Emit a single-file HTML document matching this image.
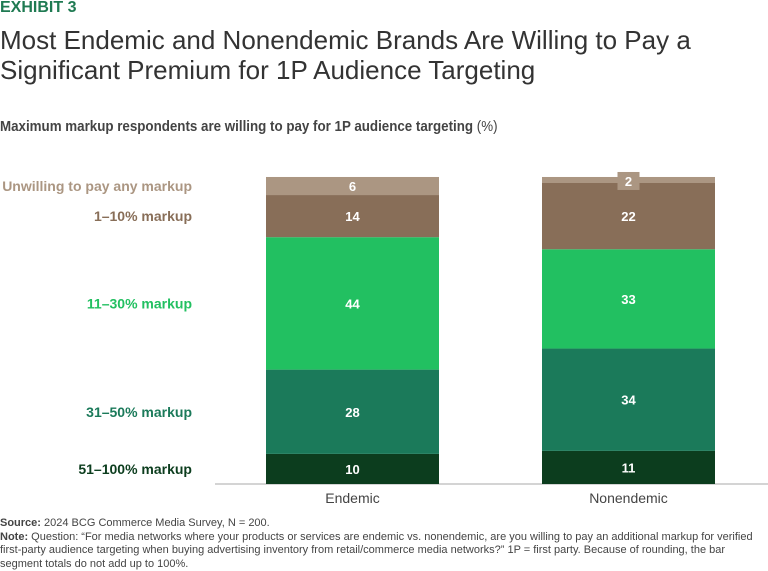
<!DOCTYPE html>
<html><head><meta charset="utf-8"><style>
body{margin:0;width:768px;height:571px;background:#fff;overflow:hidden;font-family:"Liberation Sans Narrow","Liberation Sans",sans-serif;position:relative}
.t{position:absolute;white-space:nowrap}
</style></head><body>
<div class="t" style="left:0;top:-1px;font-size:16px;font-weight:bold;color:#1f7a52">EXHIBIT 3</div>
<div class="t" style="left:0;top:25px;font-size:26px;line-height:30px;color:#333">Most Endemic and Nonendemic Brands Are Willing to Pay a<br>Significant Premium for 1P Audience Targeting</div>
<div class="t" style="left:0;top:118px;font-size:15px;font-weight:bold;color:#444;transform:scaleX(0.89);transform-origin:0 0">Maximum markup respondents are willing to pay for 1P audience targeting <span style="font-weight:normal">(%)</span></div>
<svg id="chart" width="768" height="571" style="position:absolute;left:0;top:0"></svg>
<div class="t" style="left:0;top:517px;font-size:11px;line-height:13.5px;color:#444"><b>Source:</b> 2024 BCG Commerce Media Survey, N = 200.<br><b>Note:</b> Question: “For media networks where your products or services are endemic vs. nonendemic, are you willing to pay an additional markup for verified<br>first-party audience targeting when buying advertising inventory from retail/commerce media networks?” 1P = first party. Because of rounding, the bar<br>segment totals do not add up to 100%.</div>
<script>
const categories=["Endemic","Nonendemic"];
const seriesNames=["51–100% markup","31–50% markup","11–30% markup","1–10% markup","Unwilling to pay any markup"];
const endemicValues=[10,28,44,14,6];
const nonendemicValues=[11,34,33,22,2];
const colors=["#0c3d1e","#1b7a5a","#22c061","#886e58","#ab9682"];
const values=[endemicValues,nonendemicValues];
const NS="http://www.w3.org/2000/svg";
const svg=document.getElementById('chart');
const base=484,k=3.01,barW=173,xs=[266,542];
const y=v=>base-v*k;
function mk(tag,a){const e=document.createElementNS(NS,tag);for(const n in a)e.setAttribute(n,a[n]);svg.appendChild(e);return e;}
const axis=mk('line',{x1:215,x2:768,y1:base,y2:base,stroke:'#aaa','stroke-width':1});


values.forEach((vals,ci)=>{
  let cum=0;
  vals.forEach((v,si)=>{
    const y0=y(cum),y1=y(cum+v);
    const r=mk('rect',{x:xs[ci],y:y1,width:barW,height:y0-y1,fill:colors[si]});
    
    
    const cx=xs[ci]+barW/2;
    let ty=(y0+y1)/2+5;
    if(y0-y1<14){
      const b=mk('rect',{x:cx-11,y:y1-5,width:22,height:18,fill:colors[si]});
      
      
      ty=y1+9;
    }
    const t=mk('text',{x:cx,y:ty,'text-anchor':'middle',fill:'#fff','font-size':13,'font-weight':'bold','font-family':'"Liberation Sans Narrow","Liberation Sans",sans-serif'});
    t.textContent=v;
    
    
    cum+=v;
  });
  const l=mk('text',{x:xs[ci]+barW/2,y:base+19,'text-anchor':'middle',fill:'#444','font-size':14,'font-family':'"Liberation Sans Narrow","Liberation Sans",sans-serif'});
  l.textContent=categories[ci];
  
  
});
let cum=0;
endemicValues.forEach((v,si)=>{
  const mid=(y(cum)+y(cum+v))/2+5;
  const t=mk('text',{x:192,y:mid,'text-anchor':'end',fill:colors[si],'font-size':14,'font-weight':'bold','font-family':'"Liberation Sans Narrow","Liberation Sans",sans-serif'});
  t.textContent=seriesNames[si];
  
  
  cum+=v;
});
</script>
</body></html>
